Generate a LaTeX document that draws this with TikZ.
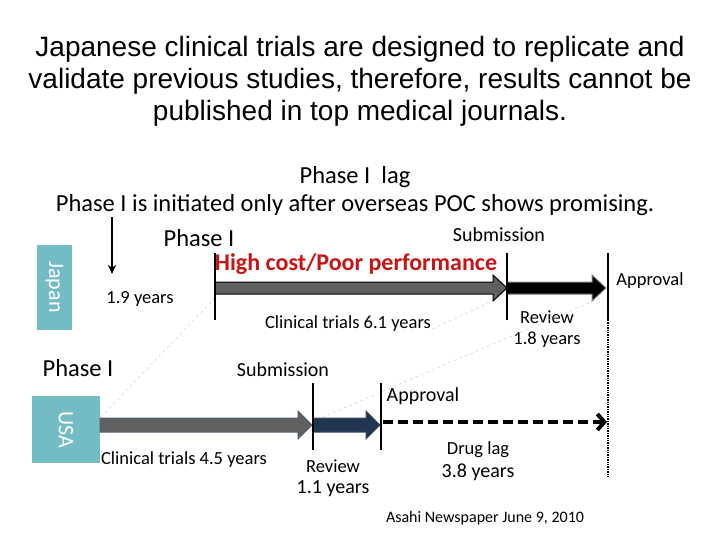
\documentclass[tikz,border=0pt]{standalone}
\usepackage{fontspec}
\setmainfont{Carlito}
\newfontfamily\titlefont{Liberation Sans}
\usetikzlibrary{arrows.meta}
\definecolor{teal}{HTML}{74BCC4}
\definecolor{navy}{HTML}{1F3550}
\tikzset{
  lbl/.style={font=\fontsize{18.5}{21}\selectfont, inner sep=0pt},
  big/.style={font=\fontsize{24.5}{28}\selectfont, inner sep=0pt},
  tick/.style={line width=1.4pt},
  guide/.style={gray!40, dashed, line width=0.5pt},
  cbox/.style={fill=teal, text=white, inner sep=0pt, font=\fontsize{22}{24}\selectfont}
}
\newcommand{\fatarrow}[6]{% x1,x2,y,halfwidth,fill,draw
  \filldraw[fill=#5, draw=#6, line width=1pt]
   (#1,#3-#4) -- (#2-14,#3-#4) -- (#2-14,#3-#4-7) -- (#2,#3) -- (#2-14,#3+#4+7) -- (#2-14,#3+#4) -- (#1,#3+#4) -- cycle;}
\begin{document}
\begin{tikzpicture}[x=1pt,y=-1pt]
\useasboundingbox (0,0) rectangle (720,540);
\node[align=center, font=\titlefont\fontsize{28}{32}\selectfont] (title) at (360,81)
 {Japanese clinical trials are designed to replicate and\\validate previous studies, therefore, results cannot be\\published in top medical journals.};
\node[big] (lag) at (355,177) {Phase I\ \ lag};
\node[big] (init) at (355,205) {Phase I is initiated only after overseas POC shows promising.};
\node[big] (ph1a) at (199,238) {Phase I};
\node[lbl,font=\fontsize{20}{22}\selectfont] (sub1) at (499,235) {Submission};
\node[big, text={rgb,255:red,200;green,20;blue,20}, font=\bfseries\fontsize{24}{27}\selectfont] (hc) at (356,264) {High cost/Poor performance};
\node[lbl] (app1) at (650,281) {Approval};
\node[lbl] (y19) at (140,299) {1.9 years};
\node[lbl] (ct61) at (348,324) {Clinical trials 6.1 years};
\node[lbl, align=center] (rev18) at (547,329) {Review\\1.8 years};
\node[big] (ph1b) at (78,368) {Phase I};
\node[lbl,font=\fontsize{20}{22}\selectfont] (sub2) at (283,370) {Submission};
\node[lbl,font=\fontsize{20}{22}\selectfont] (app2) at (423,396) {Approval};
\node[lbl] (ct45) at (184,460) {Clinical trials 4.5 years};
\node[lbl] (rev11) at (333,466) {Review};
\node[lbl,font=\fontsize{20}{22}\selectfont] (y11) at (333,489) {1.1 years};
\node[lbl] (dl) at (478,450) {Drug lag};
\node[lbl,font=\fontsize{20}{22}\selectfont] (y38) at (478,472) {3.8 years};
\node[lbl,font=\fontsize{16}{18}\selectfont] (asahi) at (485,518) {Asahi Newspaper June 9, 2010};
% country boxes
\node[cbox, minimum width=35pt, minimum height=85pt] (jp) at (54.5,287) {\rotatebox{-90}{Japan}};
\node[cbox, minimum width=68pt, minimum height=67pt] (usa) at (66,429.5) {\rotatebox{-90}{USA}};
% guides
\draw[guide] (215,298) -- (100,418);
\draw[guide] (600,298) -- (316,420);
\draw[guide] (495,300) -- (430,330);
% down arrow
\coordinate (da1) at (112,217); \coordinate (da2) at (112,274);
\draw[line width=1.5pt, -{Stealth[length=9pt,width=8pt]}] (da1) -- (da2);
% japan arrows
\fatarrow{215}{507}{288}{6}{gray!75!black}{black}
\fatarrow{507}{606}{288}{6}{black}{gray}
\draw[tick] (215,253) -- (215,320);
\draw[tick] (507,253) -- (507,320);
\draw[tick] (608,253) -- (608,320);
\draw[line width=1.4pt, densely dotted] (608,320) -- (608,478);
% usa arrows
\fatarrow{100}{312}{425}{7}{gray!75!black}{navy!80}
\fatarrow{313}{380}{425}{7}{navy}{navy!70!gray}
\draw[tick] (313,383) -- (313,450);
\draw[tick] (381,383) -- (381,450);
\coordinate (dstart) at (383,422); \coordinate (dend) at (607,422);
\draw[line width=4pt, dash pattern=on 10pt off 5pt, -{Straight Barb[length=7pt,width=16pt]}] (dstart) -- (dend);
\end{tikzpicture}
\end{document}
